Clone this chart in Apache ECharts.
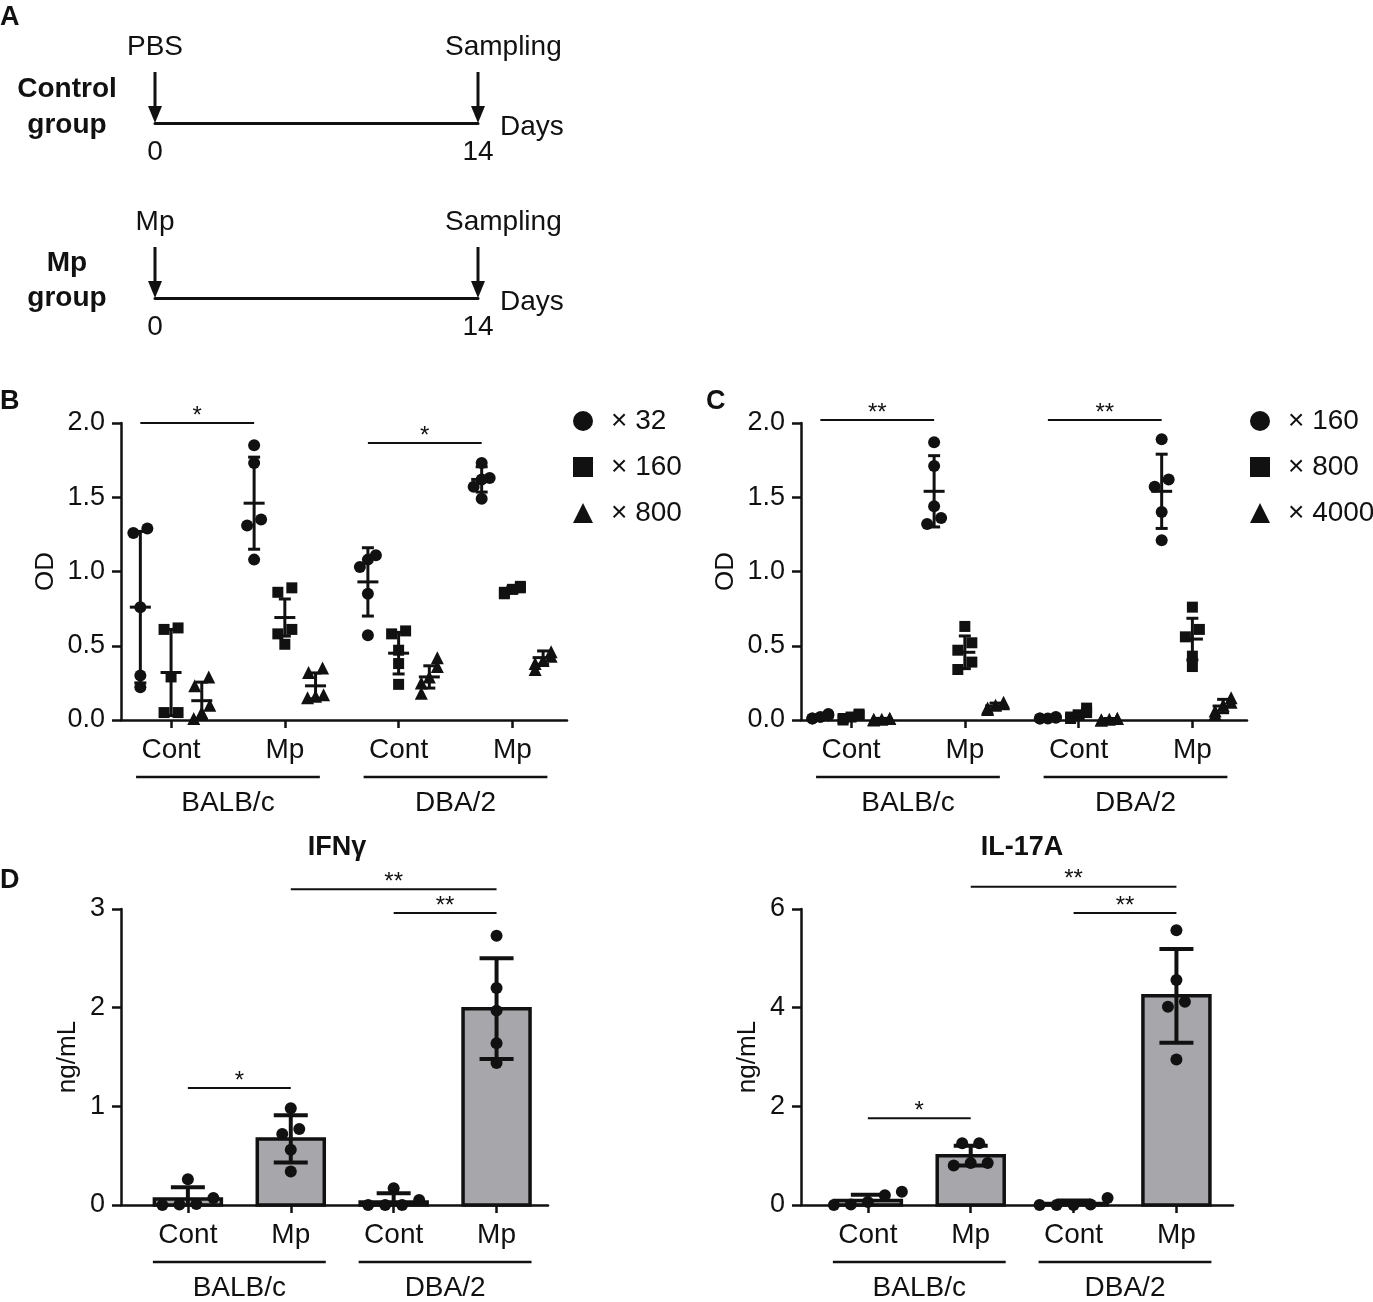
<!DOCTYPE html>
<html>
<head>
<meta charset="utf-8">
<script src="https://cdn.jsdelivr.net/npm/echarts@6/dist/echarts.min.js"></script>
<style>
html, body { margin: 0; padding: 0; background: #fff; }
#chart { width: 1373px; height: 1302px; }
</style>
</head>
<body>
<div id="chart"></div>
<script>
var FONT = "'Liberation Sans', Arial, Helvetica, sans-serif";
var INK = '#111';

// ---- data ----
var xLabels = ['Cont', 'Mp', 'Cont', 'Mp'];
var strains = ['BALB/c', 'DBA/2'];

// panel A: schedule
var eventDays = [0, 14];
var controlEvents = ['PBS', 'Sampling'];
var mpEvents = ['Mp', 'Sampling'];

// panel B: OD, 5 mice per group, order BALB Cont, BALB Mp, DBA Cont, DBA Mp
var bNames = ['× 32', '× 160', '× 800'];
var bOD32 = [[1.26, 1.29, 0.76, 0.30, 0.22], [1.85, 1.73, 1.35, 1.31, 1.08], [1.11, 1.08, 1.03, 0.85, 0.57], [1.73, 1.63, 1.62, 1.57, 1.49]];
var bOD160 = [[0.62, 0.61, 0.29, 0.05, 0.05], [0.89, 0.86, 0.61, 0.58, 0.51], [0.60, 0.58, 0.47, 0.38, 0.24], [0.90, 0.89, 0.88, 0.86, 0.85]];
var bOD800 = [[0.29, 0.23, 0.10, 0.05, 0.01], [0.35, 0.32, 0.17, 0.16, 0.15], [0.42, 0.36, 0.29, 0.25, 0.18], [0.46, 0.43, 0.40, 0.38, 0.34]];
var bMean = [[0.76, 1.46, 0.93, 1.62], [0.32, 0.69, 0.45, 0.875], [0.13, 0.23, 0.29, 0.42]];
var bSD = [[0.51, 0.31, 0.23, 0.085], [0.29, 0.125, 0.14, 0.02], [0.125, 0.087, 0.075, 0.045]];
var bSig = [[0, 1, 2.0, '*'], [2, 3, 1.865, '*']];

// panel C
var cNames = ['× 160', '× 800', '× 4000'];
var cOD160 = [[0.04, 0.03, 0.02, 0.01, 0.01], [1.87, 1.71, 1.44, 1.36, 1.32], [0.02, 0.015, 0.01, 0.01, 0.01], [1.89, 1.62, 1.57, 1.40, 1.21]];
var cOD800 = [[0.04, 0.03, 0.02, 0.01, 0.0], [0.63, 0.52, 0.47, 0.39, 0.34], [0.08, 0.05, 0.03, 0.02, 0.01], [0.76, 0.61, 0.56, 0.43, 0.36]];
var cOD4000 = [[0.01, 0.01, 0.005, 0.005, 0.0], [0.12, 0.11, 0.10, 0.08, 0.07], [0.01, 0.01, 0.005, 0.0, 0.0], [0.15, 0.12, 0.10, 0.06, 0.04]];
var cMean = [[0.02, 1.54, 0.013, 1.54], [0.02, 0.456, 0.034, 0.545], [0.006, 0.094, 0.005, 0.094]];
var cSD = [[0.013, 0.24, 0.005, 0.25], [0.016, 0.11, 0.028, 0.14], [0.005, 0.02, 0.005, 0.045]];
var cSig = [[0, 1, 2.02, '**'], [2, 3, 2.02, '**']];

// panel D: cytokines, ng/mL
var ifng = [[0.26, 0.07, 0.01, 0.005, 0.0], [0.98, 0.77, 0.72, 0.56, 0.34], [0.17, 0.05, 0.0, 0.0, 0.0], [2.73, 2.20, 1.97, 1.64, 1.44]];
var ifngMean = [0.06, 0.67, 0.03, 1.99];
var ifngSD = [0.12, 0.24, 0.09, 0.51];
var ifngSig = [[0, 1, 1.185, '*'], [2, 3, 2.96, '**'], [1, 3, 3.2, '**']];

var il17 = [[0.27, 0.20, 0.06, 0.01, 0.0], [1.25, 1.25, 0.85, 0.85, 0.80], [0.14, 0.01, 0.0, 0.0, 0.0], [5.57, 4.56, 4.12, 4.02, 2.95]];
var il17Mean = [0.09, 1.0, 0.03, 4.24];
var il17SD = [0.12, 0.20, 0.06, 0.95];
var il17Sig = [[0, 1, 1.76, '*'], [2, 3, 5.92, '**'], [1, 3, 6.45, '**']];

// ---- layout ----
var panels = {
  B: { grid: 2, left: 121, top: 423, width: 446, height: 297, xmin: -0.44, xmax: 3.48, ymax: 2, step: 0.5, digits: 1, name: 'OD', gap: 62 },
  C: { grid: 3, left: 801, top: 423, width: 446, height: 297, xmin: -0.44, xmax: 3.48, ymax: 2, step: 0.5, digits: 1, name: 'OD', gap: 62 },
  D1: { grid: 4, left: 121, top: 909, width: 427, height: 296, xmin: -0.65, xmax: 3.5, ymax: 3, step: 1, digits: 0, name: 'ng/mL', gap: 40 },
  D2: { grid: 5, left: 801, top: 909, width: 432, height: 296, xmin: -0.65, xmax: 3.55, ymax: 6, step: 2, digits: 0, name: 'ng/mL', gap: 40 }
};
Object.keys(panels).forEach(function (k) {
  var p = panels[k];
  p.px = p.width / (p.xmax - p.xmin);
  p.py = p.height / p.ymax;
});

var grids = [
  { left: 155, top: 72, width: 323, height: 51 },
  { left: 155, top: 247, width: 323, height: 51 }
];
var xAxes = [], yAxes = [], series = [];

function timelineAxes(gi) {
  xAxes.push({
    type: 'value', gridIndex: gi, min: 0, max: 14, interval: 14,
    name: 'Days', nameLocation: 'end', nameGap: 22,
    nameTextStyle: { fontSize: 28, color: INK, fontFamily: FONT, verticalAlign: 'top', padding: [-10, 0, 0, 0] },
    axisLine: { show: true, onZero: false, lineStyle: { color: INK, width: 3 } },
    axisTick: { show: false },
    axisLabel: { fontSize: 28, color: INK, fontFamily: FONT, margin: 15 },
    splitLine: { show: false }
  });
  yAxes.push({ type: 'value', gridIndex: gi, min: 0, max: 1, show: false });
}
timelineAxes(0);
timelineAxes(1);

function arrowRender(labels) {
  return function (params, api) {
    var d = api.value(0);
    var top = api.coord([d, 1]), tip = api.coord([d, 0]);
    var last = params.dataIndex === labels.length - 1;
    return {
      type: 'group', children: [
        { type: 'line', shape: { x1: top[0], y1: top[1], x2: tip[0], y2: tip[1] - 12 }, style: { stroke: INK, lineWidth: 3 } },
        { type: 'polygon', shape: { points: [[tip[0] - 7, tip[1] - 17], [tip[0] + 7, tip[1] - 17], [tip[0], tip[1]]] }, style: { fill: INK } },
        { type: 'text', x: last ? tip[0] - 33 : tip[0], y: top[1] - 25,
          style: { text: labels[params.dataIndex], fontSize: 28, fontFamily: FONT, fill: INK, align: last ? 'left' : 'center', verticalAlign: 'middle' } }
      ]
    };
  };
}
[controlEvents, mpEvents].forEach(function (labels, gi) {
  series.push({
    type: 'custom', xAxisIndex: gi, yAxisIndex: gi, clip: false, silent: true,
    data: eventDays.map(function (d) { return [d, 0]; }),
    renderItem: arrowRender(labels)
  });
});

function dataAxes(p) {
  grids.push({ left: p.left, top: p.top, width: p.width, height: p.height, outerBoundsMode: 'none' });
  xAxes.push({
    type: 'value', gridIndex: p.grid, min: p.xmin, max: p.xmax,
    axisLine: { show: true, onZero: false, lineStyle: { color: INK, width: 2.5 } },
    axisTick: { show: true, customValues: [0, 1, 2, 3], length: 8, lineStyle: { color: INK, width: 2.5 } },
    axisLabel: { show: true, customValues: [0, 1, 2, 3], fontSize: 28, color: INK, fontFamily: FONT, margin: 16,
      formatter: function (v) { return xLabels[Math.round(v)]; } },
    splitLine: { show: false }
  });
  yAxes.push({
    type: 'value', gridIndex: p.grid, min: 0, max: p.ymax, interval: p.step,
    name: p.name, nameLocation: 'middle', nameGap: p.gap, nameRotate: 90,
    nameTextStyle: { fontSize: 26, color: INK, fontFamily: FONT },
    axisLine: { show: true, onZero: false, lineStyle: { color: INK, width: 2.5 } },
    axisTick: { show: true, length: 9, lineStyle: { color: INK, width: 2.5 } },
    axisLabel: { fontSize: 27, color: INK, fontFamily: FONT, margin: 16,
      formatter: function (v) { return v.toFixed(p.digits); } },
    splitLine: { show: false }
  });
}

// spread overlapping dots sideways, like a GraphPad scatter
function spread(vals, py, near, step, maxOff) {
  var idx = vals.map(function (v, i) { return i; }).sort(function (a, b) { return vals[b] - vals[a]; });
  var offs = vals.map(function () { return 0; });
  var cluster = [idx[0]];
  function flush() {
    var n = cluster.length;
    cluster.slice().reverse().forEach(function (k, j) {
      var o = (j - (n - 1) / 2) * step;
      offs[k] = Math.max(-maxOff, Math.min(maxOff, o));
    });
  }
  for (var j = 1; j < idx.length; j++) {
    if ((vals[idx[j - 1]] - vals[idx[j]]) * py < near) cluster.push(idx[j]);
    else { flush(); cluster = [idx[j]]; }
  }
  flush();
  return offs;
}

function pointData(groups, off, p, size, step, maxOff) {
  var out = [];
  groups.forEach(function (vals, c) {
    var offs = spread(vals, p.py, size * 0.9, step, maxOff);
    vals.forEach(function (v, i) { out.push([c + off + offs[i] / p.px, v]); });
  });
  return out;
}

function errorRender(off, capW, meanW, lw) {
  return function (params, api) {
    var x = api.value(0) + off, m = api.value(1), s = api.value(2);
    var pm = api.coord([x, m]), pt = api.coord([x, m + s]);
    var lowClamped = m - s < 0;
    var pb = api.coord([x, Math.max(m - s, 0)]);
    var st = { stroke: INK, lineWidth: lw };
    var ch = [
      { type: 'line', shape: { x1: pt[0], y1: pt[1], x2: pb[0], y2: pb[1] }, style: st },
      { type: 'line', shape: { x1: pt[0] - capW / 2, y1: pt[1], x2: pt[0] + capW / 2, y2: pt[1] }, style: st }
    ];
    if (!lowClamped) ch.push({ type: 'line', shape: { x1: pb[0] - capW / 2, y1: pb[1], x2: pb[0] + capW / 2, y2: pb[1] }, style: st });
    if (meanW) ch.push({ type: 'line', shape: { x1: pm[0] - meanW / 2, y1: pm[1], x2: pm[0] + meanW / 2, y2: pm[1] }, style: st });
    return { type: 'group', children: ch };
  };
}

function sigRender(list, off) {
  return function (params, api) {
    var s = list[params.dataIndex];
    var a = api.coord([s[0] + off, s[2]]), b = api.coord([s[1] + off, s[2]]);
    return {
      type: 'group', children: [
        { type: 'line', shape: { x1: a[0], y1: a[1], x2: b[0], y2: b[1] }, style: { stroke: INK, lineWidth: 2 } },
        { type: 'text', x: (a[0] + b[0]) / 2, y: a[1] - 7,
          style: { text: s[3], fontSize: 24, fontFamily: FONT, fill: INK, align: 'center', verticalAlign: 'middle' } }
      ]
    };
  };
}

function groupRender(params, api) {
  var k = params.dataIndex;
  var a = api.coord([2 * k, 0]), b = api.coord([2 * k + 1, 0]);
  var y = a[1] + 57;
  return {
    type: 'group', children: [
      { type: 'line', shape: { x1: a[0] - 35, y1: y, x2: b[0] + 35, y2: y }, style: { stroke: INK, lineWidth: 2.5 } },
      { type: 'text', x: (a[0] + b[0]) / 2, y: y + 26,
        style: { text: strains[k], fontSize: 28, fontFamily: FONT, fill: INK, align: 'center', verticalAlign: 'middle' } }
    ]
  };
}

function barRender(params, api) {
  var x = api.value(0), m = api.value(1);
  var top = api.coord([x, m]), base = api.coord([x, 0]);
  return { type: 'rect', shape: { x: top[0] - 33.5, y: top[1], width: 67, height: base[1] - top[1] },
    style: { fill: '#a7a6ab', stroke: INK, lineWidth: 3.5 } };
}

function commonSeries(p, sig, sigOff) {
  series.push({ type: 'custom', xAxisIndex: p.grid, yAxisIndex: p.grid, clip: false, silent: true, z: 5,
    data: sig.map(function (s) { return [s[0], s[2]]; }), renderItem: sigRender(sig, sigOff) });
  series.push({ type: 'custom', xAxisIndex: p.grid, yAxisIndex: p.grid, clip: false, silent: true,
    data: strains.map(function (s, k) { return [2 * k, 0]; }), renderItem: groupRender });
}

// panels B and C: three dilutions side by side
var dilOffsets = [-0.27, 0, 0.27];
var dilSymbols = ['circle', 'rect', 'triangle'];
var dilSizes = [12, 11, 13];
function odPanel(p, prefix, groupsList, means, sds, sig) {
  dataAxes(p);
  groupsList.forEach(function (groups, s) {
    series.push({
      name: prefix + s, type: 'scatter', xAxisIndex: p.grid, yAxisIndex: p.grid, silent: true, z: 3,
      symbol: dilSymbols[s], symbolSize: dilSizes[s], itemStyle: { color: INK, opacity: 1 },
      data: pointData(groups, dilOffsets[s], p, dilSizes[s], 14, 8)
    });
    series.push({
      type: 'custom', xAxisIndex: p.grid, yAxisIndex: p.grid, clip: false, silent: true, z: 4,
      data: means[s].map(function (m, c) { return [c, m, sds[s][c]]; }),
      renderItem: errorRender(dilOffsets[s], 12, 21, 3)
    });
  });
  commonSeries(p, sig, dilOffsets[0]);
}
odPanel(panels.B, 'B', [bOD32, bOD160, bOD800], bMean, bSD, bSig);
odPanel(panels.C, 'C', [cOD160, cOD800, cOD4000], cMean, cSD, cSig);

// panel D: bars with dots
function barPanel(p, groups, means, sds, sig) {
  dataAxes(p);
  series.push({ type: 'custom', xAxisIndex: p.grid, yAxisIndex: p.grid, clip: false, silent: true, z: 2,
    data: means.map(function (m, c) { return [c, m]; }), renderItem: barRender });
  series.push({ type: 'scatter', xAxisIndex: p.grid, yAxisIndex: p.grid, silent: true, z: 3,
    symbol: 'circle', symbolSize: 12, itemStyle: { color: INK, opacity: 1 },
    data: pointData(groups, 0, p, 12, 17, 40) });
  series.push({ type: 'custom', xAxisIndex: p.grid, yAxisIndex: p.grid, clip: false, silent: true, z: 4,
    data: means.map(function (m, c) { return [c, m, sds[c]]; }), renderItem: errorRender(0, 34, 0, 4) });
  commonSeries(p, sig, 0);
}
barPanel(panels.D1, ifng, ifngMean, ifngSD, ifngSig);
barPanel(panels.D2, il17, il17Mean, il17SD, il17Sig);

function legendFor(prefix, names, left) {
  return {
    orient: 'vertical', left: left, top: 402, itemWidth: 20, itemHeight: 20, itemGap: 18,
    selectedMode: false,
    data: names.map(function (n, s) { return { name: prefix + s, icon: dilSymbols[s], itemStyle: { color: INK, opacity: 1 } }; }),
    formatter: function (name) { return names[+name.slice(1)]; },
    textStyle: { fontSize: 28, color: INK, fontFamily: FONT, lineHeight: 28, padding: [0, 0, 0, 13] }
  };
}

function label(text, x, y, size, opts) {
  return { type: 'text', x: x, y: y, silent: true,
    style: Object.assign({ text: text, fontSize: size, fontWeight: 'bold', fontFamily: FONT, fill: INK,
      align: 'left', verticalAlign: 'top' }, opts || {}) };
}

var graphics = [
  label('A', 0, 4, 27),
  label('B', 0, 388, 27),
  label('C', 706, 388, 27),
  label('D', 0, 867, 27),
  label('Control\ngroup', 67, 71, 28, { align: 'center', lineHeight: 36 }),
  label('Mp\ngroup', 67, 246, 28, { align: 'center', lineHeight: 35 }),
  label('IFNγ', 337, 848, 27, { align: 'center', verticalAlign: 'middle' }),
  label('IL-17A', 1022, 848, 27, { align: 'center', verticalAlign: 'middle' })
];

var chart = echarts.init(document.getElementById('chart'));
chart.setOption({
  animation: false,
  backgroundColor: '#fff',
  textStyle: { fontFamily: FONT, color: INK },
  grid: grids,
  xAxis: xAxes,
  yAxis: yAxes,
  legend: [legendFor('B', bNames, 568), legendFor('C', cNames, 1245)],
  graphic: graphics,
  series: series
});
</script>
</body>
</html>
